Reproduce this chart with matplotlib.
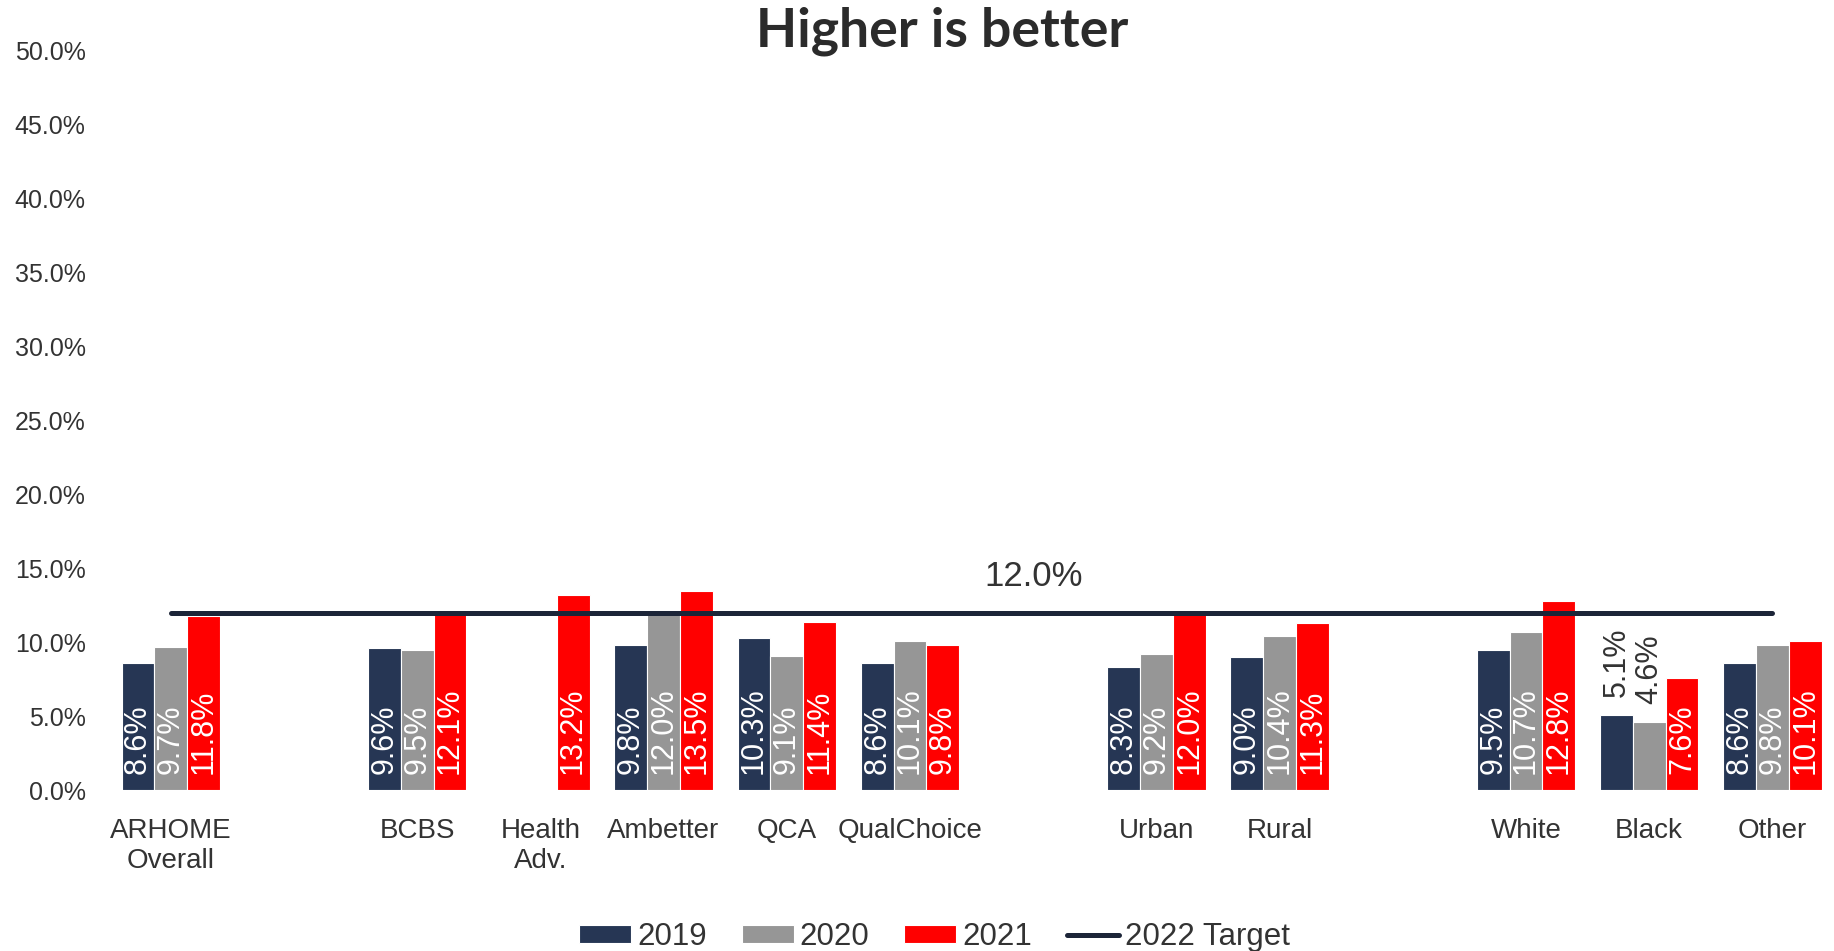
import matplotlib.pyplot as plt
import numpy as np

categories = ["ARHOME\nOverall", "", "BCBS", "Health\nAdv.", "Ambetter", "QCA", "QualChoice",
              "", "Urban", "Rural", "", "White", "Black", "Other"]
y2019 = [8.6, np.nan, 9.6, np.nan, 9.8, 10.3, 8.6, np.nan, 8.3, 9.0, np.nan, 9.5, 5.1, 8.6]
y2020 = [9.7, np.nan, 9.5, np.nan, 12.0, 9.1, 10.1, np.nan, 9.2, 10.4, np.nan, 10.7, 4.6, 9.8]
y2021 = [11.8, np.nan, 12.1, 13.2, 13.5, 11.4, 9.8, np.nan, 12.0, 11.3, np.nan, 12.8, 7.6, 10.1]
target = 12.0
years = ["2019", "2020", "2021"]
colors = ["#263654", "#969696", "#ff0000"]

plt.rcParams['font.family'] = ['Liberation Sans', 'DejaVu Sans']
text_col = "#333333"

fig = plt.figure(figsize=(18.34, 9.51), dpi=100)
ax = fig.add_axes([0.0595, 0.169, 0.9405, 0.778])

x = np.arange(len(categories))
w = 0.266
for i, (vals, c, lab) in enumerate(zip([y2019, y2020, y2021], colors, years)):
    pos = x + (i - 1) * w
    ax.bar(pos, vals, w, color=c, edgecolor="white", linewidth=0.8, label=lab)
    for p, v in zip(pos, vals):
        if np.isnan(v):
            continue
        if v < 6:
            # too short for the label, put it above in dark text
            ax.annotate(f"{v:.1f}%", (p, v), xytext=(0, 13), textcoords="offset points",
                        rotation=90, ha="center", va="bottom", fontsize=22, color=text_col)
        else:
            ax.annotate(f"{v:.1f}%", (p, 0), xytext=(0, 12), textcoords="offset points",
                        rotation=90, ha="center", va="bottom", fontsize=22, color="white")

ax.plot([x[0], x[-1]], [target, target], color="#1c2538", lw=3.6,
        solid_capstyle="round", label="2022 Target")
ax.text(7, target + 1.3, f"{target:.1f}%", ha="center", va="bottom", fontsize=25, color=text_col)

ax.set_xlim(-0.5, len(categories) - 0.5)
ax.set_ylim(0, 50)
ax.set_yticks(np.arange(0, 50.1, 5))
ax.set_yticklabels([f"{t:.1f}%" for t in np.arange(0, 50.1, 5)])
ax.set_xticks(x)
ax.set_xticklabels(categories)
ax.tick_params(axis="x", length=0, pad=20, labelsize=20, colors=text_col)
ax.tick_params(axis="y", length=0, pad=17, labelsize=18, colors=text_col)
for s in ax.spines.values():
    s.set_visible(False)

fig.text(0.514, 0.9506, "Higher is better", ha="center", va="baseline", fontsize=38.5,
         fontweight="bold", family="Lato", color="#2b2b2b")

handles, labels = ax.get_legend_handles_labels()
order = [1, 2, 3, 0]
fig.legend([handles[k] for k in order], [labels[k] for k in order],
           loc="center", bbox_to_anchor=(0.5095, 0.0147), ncol=4, frameon=False,
           fontsize=22.5, handlelength=1.66, handleheight=0.55, handletextpad=0.19,
           columnspacing=1.12, labelcolor=text_col, borderpad=0)

plt.savefig("out.png")
